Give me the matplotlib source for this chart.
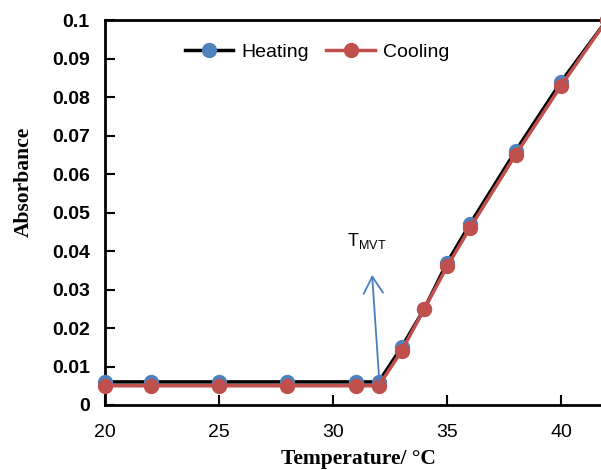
import matplotlib
matplotlib.use("Agg")
import matplotlib.pyplot as plt
from matplotlib.ticker import FixedLocator, FixedFormatter

# data
temp = [20, 22, 25, 28, 31, 32, 33, 34, 35, 36, 38, 40, 42]
heating = [0.006, 0.006, 0.006, 0.006, 0.006, 0.006, 0.015, 0.025, 0.037, 0.047, 0.066, 0.084, 0.1]
cooling = [0.005, 0.005, 0.005, 0.005, 0.005, 0.005, 0.014, 0.025, 0.036, 0.046, 0.065, 0.083, 0.1]

yticks = [0, 0.01, 0.02, 0.03, 0.04, 0.05, 0.06, 0.07, 0.08, 0.09, 0.1]
ylabels = ["0", "0.01", "0.02", "0.03", "0.04", "0.05", "0.06", "0.07", "0.08", "0.09", "0.1"]
xticks = [20, 25, 30, 35, 40]

blue = "#4F81BD"
red = "#C0504D"

plt.rcParams['font.family'] = ['Liberation Sans', 'DejaVu Sans']
plt.rcParams['mathtext.fontset'] = 'custom'
plt.rcParams['mathtext.rm'] = 'Liberation Sans'

fig = plt.figure(figsize=(6.01, 4.70), dpi=100)
# axes run past the right edge, like the cropped original
ax = fig.add_axes([0.1747, 0.1383, 0.835, 0.819])

ax.plot(temp, heating, color="black", lw=2.5, marker="o", ms=10,
        mfc=blue, mec=blue, label="Heating", clip_on=False, zorder=3)
ax.plot(temp, cooling, color=red, lw=2.5, marker="o", ms=10,
        mfc=red, mec=red, label="Cooling", clip_on=False, zorder=4)

# T_MVT arrow
ax.annotate("", xy=(31.71, 0.0338), xytext=(32.03, 0.0057),
            arrowprops=dict(arrowstyle="->,head_length=0.6,head_width=0.35",
                            color="#4A7EBB", lw=1.3, mutation_scale=20,
                            shrinkA=0, shrinkB=0), zorder=5)
ax.text(30.6, 0.0425, r"T$_{\mathrm{MVT}}$", fontsize=13, va="center")

ax.set_xlim(20, 42)
ax.set_ylim(0, 0.1)
ax.xaxis.set_major_locator(FixedLocator(xticks))
ax.yaxis.set_major_locator(FixedLocator(yticks))
ax.yaxis.set_major_formatter(FixedFormatter(ylabels))
ax.tick_params(direction="in", length=7, width=1.5)
ax.tick_params(axis="y", labelsize=14, pad=11)
ax.tick_params(axis="x", labelsize=14, pad=14)

for side in ["left", "bottom", "top", "right"]:
    ax.spines[side].set_linewidth(2)
    ax.spines[side].set_color("black")

ax.set_ylabel("Absorbance", fontsize=15.5, fontweight="bold",
              family="Liberation Serif")
ax.yaxis.set_label_coords(-0.142, 0.579)
ax.set_xlabel("Temperature/ \u00b0C", fontsize=15.5, fontweight="bold",
              family="Liberation Serif")
ax.xaxis.set_label_coords(0.506, -0.115)

ax.legend(loc="center left", bbox_to_anchor=(0.159, 0.917), ncol=2, frameon=False,
          fontsize=14, handlelength=2.5, columnspacing=0.9, handletextpad=0.4,
          borderpad=0, borderaxespad=0)

# bold y tick labels, set after the ticks exist
fig.canvas.draw()
for lab in ax.yaxis.get_majorticklabels():
    lab.set_fontweight("bold")

fig.savefig("out.png", dpi=100)
